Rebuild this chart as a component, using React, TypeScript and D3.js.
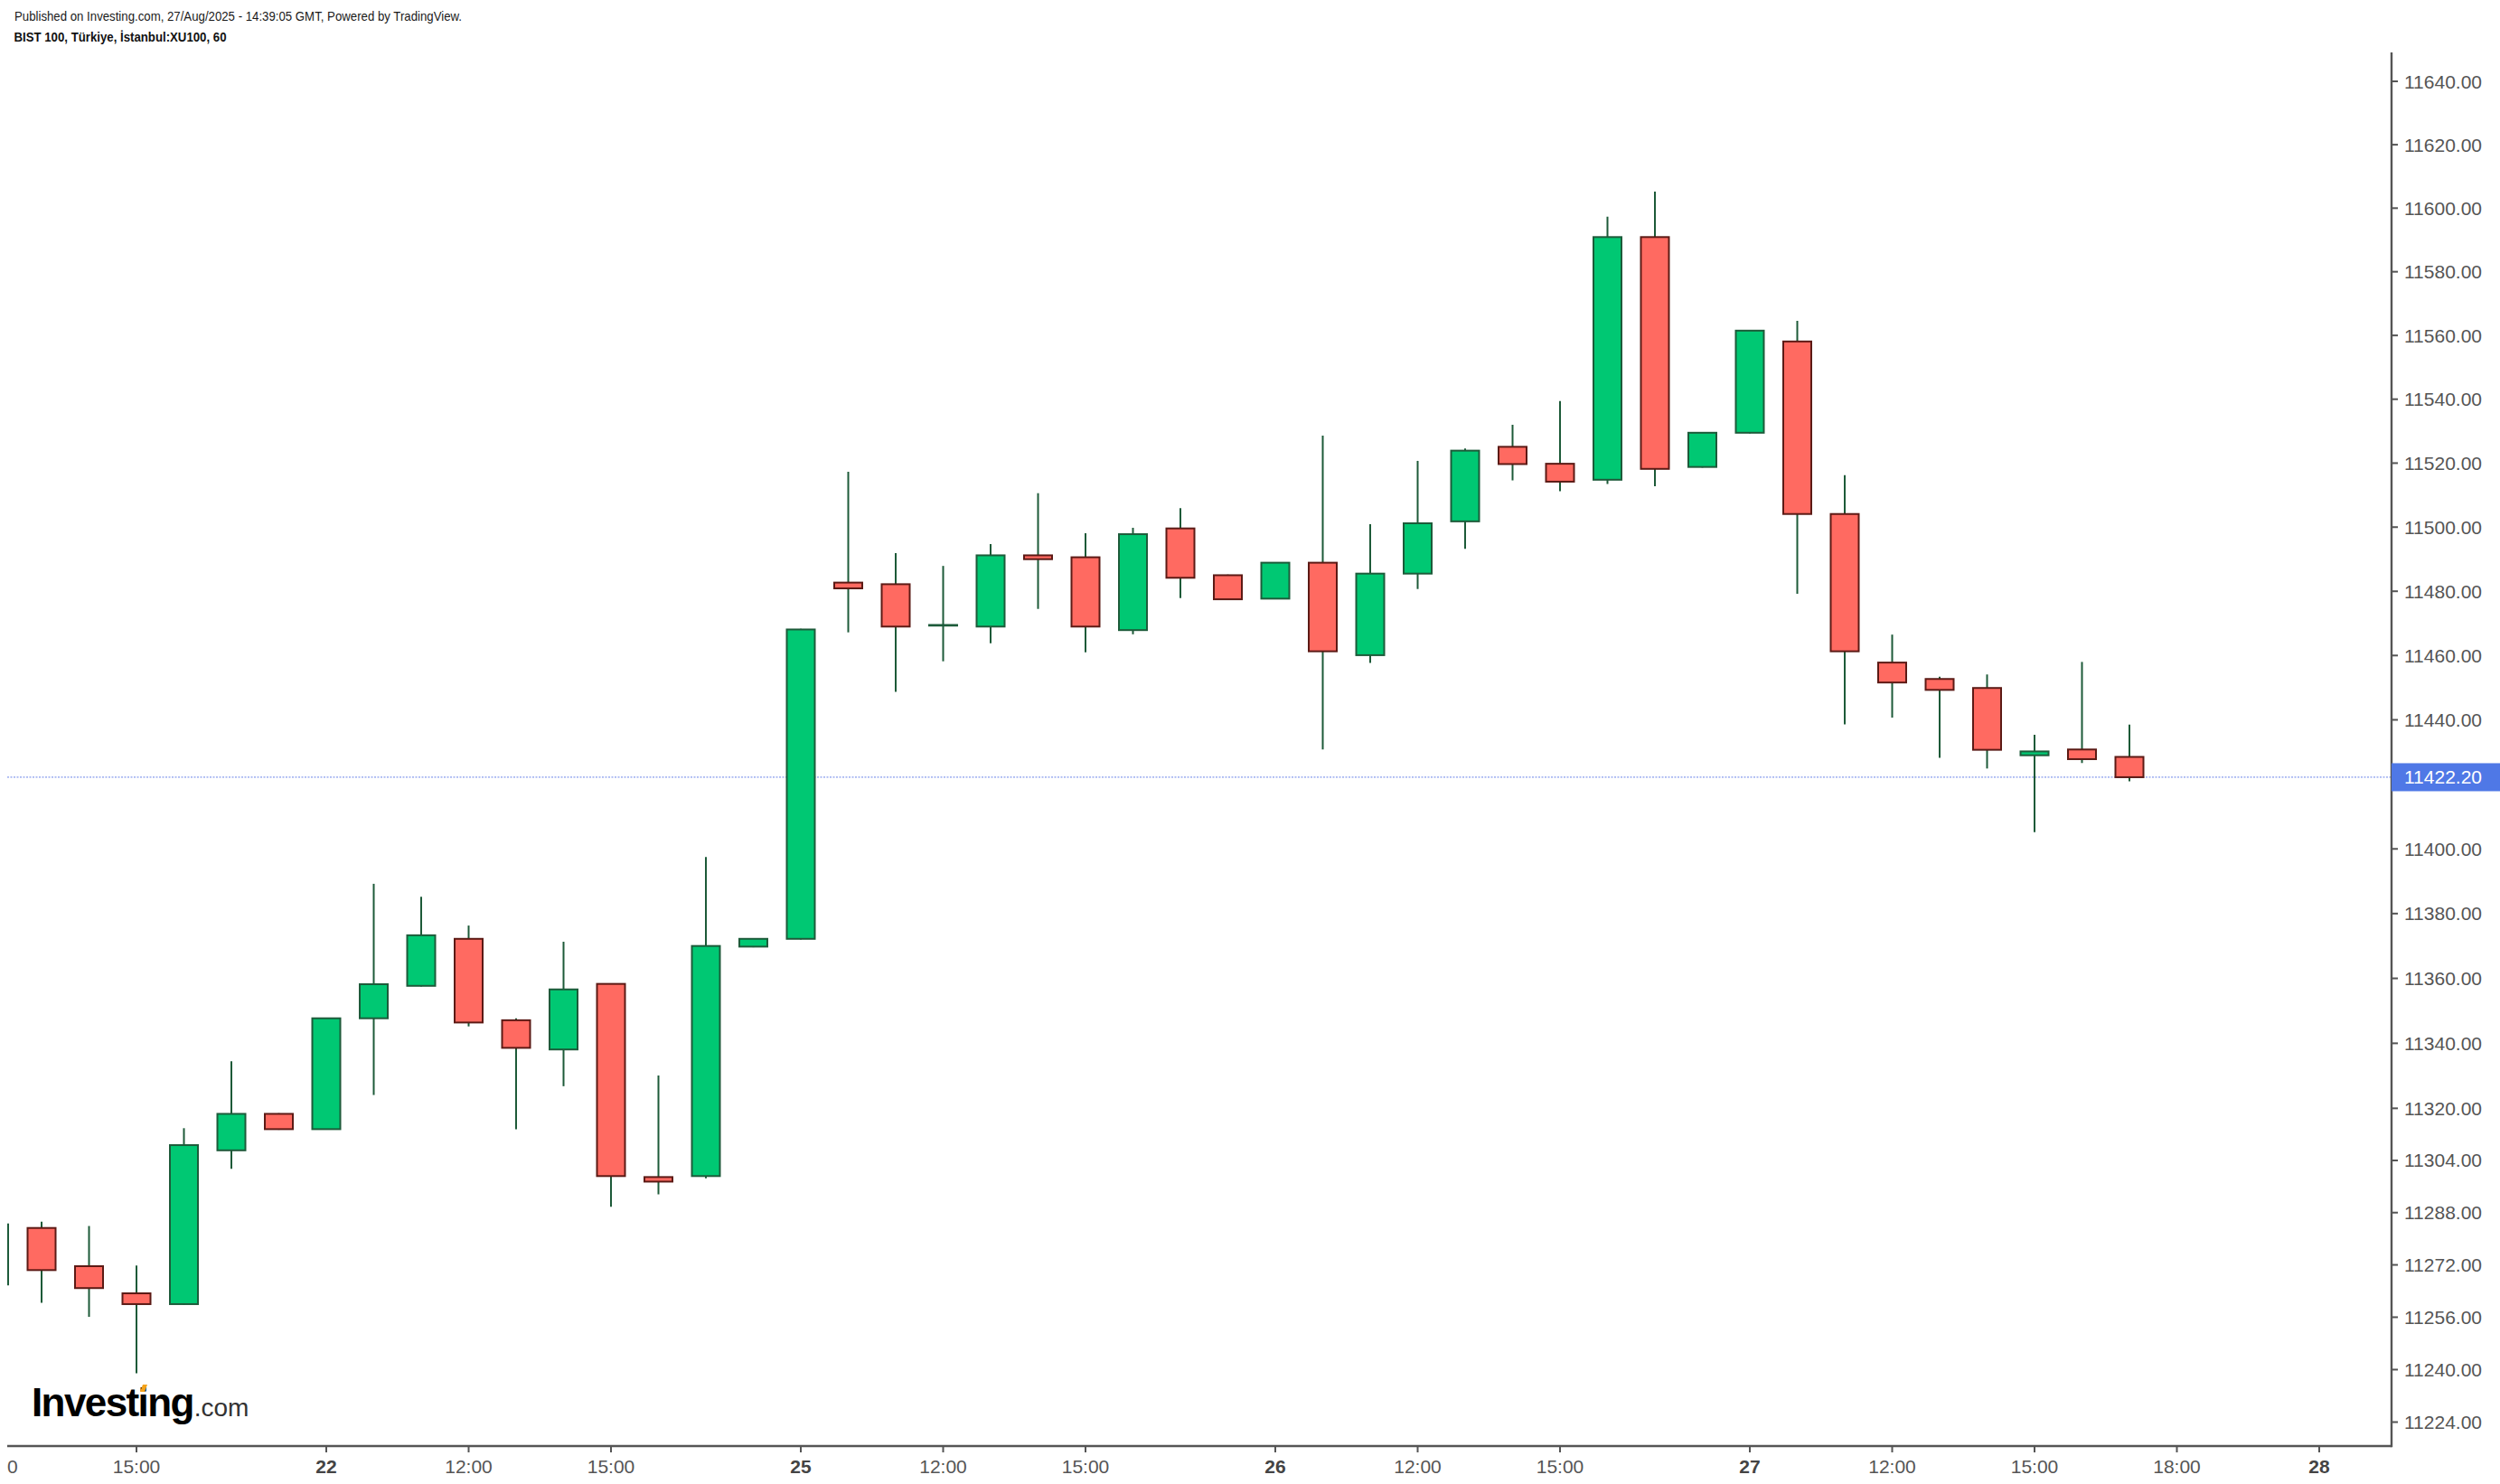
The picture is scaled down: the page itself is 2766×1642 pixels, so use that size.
import React from "react";
import * as d3 from "d3";

// ---------- data ----------
const BAR_INDEX = d3.range(-7, 39);
const OPEN = [
  11266.0, 11283.3, 11271.6, 11263.3, 11260.0, 11307.1, 11318.3,
  11313.6, 11347.7, 11357.7, 11372.2, 11347.1, 11338.1, 11358.3, 11298.9, 11299.2, 11369.8,
  11372.2, 11482.7, 11482.2, 11469.3, 11469.0, 11491.2, 11490.6, 11467.9, 11499.6, 11485.0,
  11477.7, 11488.9, 11460.1, 11485.5, 11501.8, 11525.1, 11519.8, 11514.8, 11590.9, 11518.8,
  11529.5, 11558.1, 11504.1, 11457.8, 11452.7, 11449.9, 11429.0, 11430.8, 11428.5,
];
const HIGH = [
  11287.0, 11285.2, 11283.9, 11271.8, 11313.9, 11334.5, 11318.5,
  11347.9, 11389.2, 11385.2, 11376.3, 11347.7, 11371.3, 11358.5, 11330.1, 11397.5, 11372.4,
  11468.3, 11517.3, 11491.9, 11487.9, 11494.7, 11510.6, 11498.1, 11499.8, 11505.9, 11485.2,
  11489.1, 11528.6, 11500.9, 11520.7, 11524.6, 11532.0, 11539.4, 11597.3, 11605.2, 11529.7,
  11561.7, 11564.6, 11516.2, 11466.5, 11453.4, 11454.1, 11435.4, 11458.0, 11438.5,
];
const LOW = [
  11263.0, 11260.4, 11256.1, 11238.9, 11259.8, 11301.4, 11313.4,
  11313.4, 11324.1, 11357.5, 11345.2, 11313.6, 11326.8, 11289.8, 11293.6, 11298.5, 11369.6,
  11372.0, 11467.2, 11448.7, 11458.2, 11463.8, 11474.5, 11461.0, 11466.6, 11477.9, 11477.3,
  11477.5, 11430.8, 11457.7, 11480.7, 11493.2, 11514.6, 11511.2, 11513.5, 11512.8, 11518.6,
  11529.3, 11479.2, 11438.6, 11440.7, 11428.2, 11424.9, 11405.2, 11426.6, 11420.9,
];
const CLOSE = [
  11284.4, 11270.4, 11264.9, 11260.0, 11308.7, 11318.3, 11313.6,
  11347.7, 11358.2, 11373.3, 11346.4, 11338.6, 11356.6, 11299.2, 11297.5, 11370.0, 11372.2,
  11468.1, 11480.9, 11469.0, 11469.5, 11491.2, 11490.0, 11469.0, 11497.8, 11484.2, 11477.5,
  11488.9, 11461.3, 11485.5, 11501.2, 11523.9, 11519.7, 11514.2, 11590.9, 11518.2, 11529.5,
  11561.5, 11504.1, 11461.3, 11451.6, 11449.3, 11430.7, 11430.2, 11427.8, 11422.2,
];

const TIME_TICK_INDEX = [-7, -4, 0, 3, 6, 10, 13, 16, 20, 23, 26, 30, 33, 36, 39, 42];
const TIME_TICK_LABELS = [
  "12:00", "15:00", "22", "12:00", "15:00", "25", "12:00", "15:00",
  "26", "12:00", "15:00", "27", "12:00", "15:00", "18:00", "28",
];
const PRICE_TICKS = [
  11640, 11620, 11600, 11580, 11560, 11540, 11520, 11500, 11480, 11460, 11440,
  11400, 11380, 11360, 11340, 11320, 11304, 11288, 11272, 11256, 11240, 11224,
];
const LAST_PRICE = 11422.2;

const TITLE = "Published on Investing.com, 27/Aug/2025 - 14:39:05 GMT, Powered by TradingView.";
const SUBTITLE = "BIST 100, Türkiye, İstanbul:XU100, 60";

// ---------- layout ----------
const W = 2766;
const H = 1642;
const PLOT_LEFT = 8;
const PLOT_RIGHT = 2646;
const PLOT_TOP = 58;
const PLOT_BOTTOM = 1600;

const UP_FILL = "#00c873";
const DOWN_FILL = "#ff6a61";
const UP_BORDER = "#1d5b3a";
const DOWN_BORDER = "#5c1a15";
const WICK = "#1d5a38";
const AXIS = "#555555";
const FONT = "'Liberation Sans', Arial, Helvetica, sans-serif";

export default function App() {
  const x = d3.scaleLinear().domain([0, 42]).range([361, 361 + 42 * 52.5]);
  const y = d3.scaleLog().domain([11224, 11640]).range([1573.5, 90]);
  const bodyW = 31;

  const bars = BAR_INDEX.map((idx, i) => ({
    idx,
    o: OPEN[i],
    h: HIGH[i],
    l: LOW[i],
    c: CLOSE[i],
  }));

  const py = y(LAST_PRICE);

  return (
    <svg
      width={W}
      height={H}
      viewBox={`0 0 ${W} ${H}`}
      style={{ position: "absolute", left: 0, top: 0, background: "#fff" }}
    >
      <defs>
        <clipPath id="plotClip">
          <rect x={PLOT_LEFT} y={PLOT_TOP} width={PLOT_RIGHT - PLOT_LEFT} height={PLOT_BOTTOM - PLOT_TOP} />
        </clipPath>
        <clipPath id="xLabelClip">
          <rect x={PLOT_LEFT} y={PLOT_BOTTOM} width={PLOT_RIGHT - PLOT_LEFT} height={H - PLOT_BOTTOM} />
        </clipPath>
      </defs>
      <rect x={0} y={0} width={W} height={H} fill="#ffffff" />

      {/* header */}
      <text
        x={16}
        y={23.3}
        fontFamily="'Liberation Sans Narrow', 'Arial Narrow', 'Liberation Sans', Arial, sans-serif"
        fontSize={15}
        fill="#1a1a1a"
        textLength={495}
        lengthAdjust="spacingAndGlyphs"
      >
        {TITLE}
      </text>
      <text
        x={15.5}
        y={45.7}
        fontFamily="'Liberation Sans Narrow', 'Arial Narrow', 'Liberation Sans', Arial, sans-serif"
        fontSize={15}
        fontWeight="bold"
        fill="#111"
        textLength={235}
        lengthAdjust="spacingAndGlyphs"
      >
        {SUBTITLE}
      </text>

      {/* candles */}
      <g clipPath="url(#plotClip)">
        {/* last price dotted line */}
        <line
          x1={PLOT_LEFT}
          x2={PLOT_RIGHT}
          y1={py}
          y2={py}
          stroke="#a9b8f2"
          strokeWidth={1.8}
          strokeDasharray="2 1.5"
        />
        {bars.map((b) => {
          const cx = x(b.idx);
          const up = b.c >= b.o;
          const top = y(Math.max(b.o, b.c));
          const bot = y(Math.min(b.o, b.c));
          return (
            <g key={b.idx}>
              <line x1={cx} x2={cx} y1={y(b.h)} y2={y(b.l)} stroke={WICK} strokeWidth={2} />
              <rect
                x={cx - bodyW / 2}
                y={top}
                width={bodyW}
                height={Math.max(bot - top, 0.5)}
                fill={up ? UP_FILL : DOWN_FILL}
                stroke={up ? UP_BORDER : DOWN_BORDER}
                strokeWidth={2}
              />
            </g>
          );
        })}
      </g>

      {/* logo */}
      <g>
        <text x={35} y={1567} fontFamily="'Liberation Sans', Arial, sans-serif">
          <tspan fontWeight="bold" fontSize={44} fill="#000" letterSpacing={-1.6}>
            Investing
          </tspan>
          <tspan fontSize={28} fill="#333" dx={1}>
            .com
          </tspan>
        </text>
        <path d="M155,1540 L158,1532 L163,1532 L160,1540 Z" fill="#f5a31a" />
      </g>

      {/* x axis */}
      <line x1={PLOT_LEFT} x2={PLOT_RIGHT} y1={PLOT_BOTTOM} y2={PLOT_BOTTOM} stroke={AXIS} strokeWidth={2.4} />
      <g clipPath="url(#xLabelClip)">
        {TIME_TICK_INDEX.map((ti, i) => {
          const tx = x(ti);
          const lab = TIME_TICK_LABELS[i];
          const isDay = !lab.includes(":");
          return (
            <g key={i}>
              <line x1={tx} x2={tx} y1={PLOT_BOTTOM} y2={PLOT_BOTTOM + 7} stroke={AXIS} strokeWidth={2} />
              <text
                x={tx}
                y={1622}
                textAnchor="middle"
                dominantBaseline="central"
                fontFamily={FONT}
                fontSize={21}
                fontWeight={isDay ? "bold" : "normal"}
                fill={isDay ? "#444" : "#555"}
              >
                {lab}
              </text>
            </g>
          );
        })}
      </g>

      {/* y axis */}
      <line x1={PLOT_RIGHT} x2={PLOT_RIGHT} y1={PLOT_TOP} y2={PLOT_BOTTOM + 1.2} stroke={AXIS} strokeWidth={2.4} />
      {PRICE_TICKS.map((t) => (
        <g key={t}>
          <line x1={PLOT_RIGHT} x2={PLOT_RIGHT + 7} y1={y(t)} y2={y(t)} stroke={AXIS} strokeWidth={2} />
          <text
            x={2660}
            y={y(t)}
            dominantBaseline="central"
            fontFamily={FONT}
            fontSize={21}
            fill="#555"
          >
            {t.toFixed(2)}
          </text>
        </g>
      ))}

      {/* last price label */}
      <rect x={PLOT_RIGHT} y={py - 15.5} width={W - PLOT_RIGHT} height={31} fill="#4f78e6" />
      <text
        x={2660}
        y={py}
        dominantBaseline="central"
        fontFamily={FONT}
        fontSize={21}
        fill="#ffffff"
      >
        {LAST_PRICE.toFixed(2)}
      </text>
    </svg>
  );
}
